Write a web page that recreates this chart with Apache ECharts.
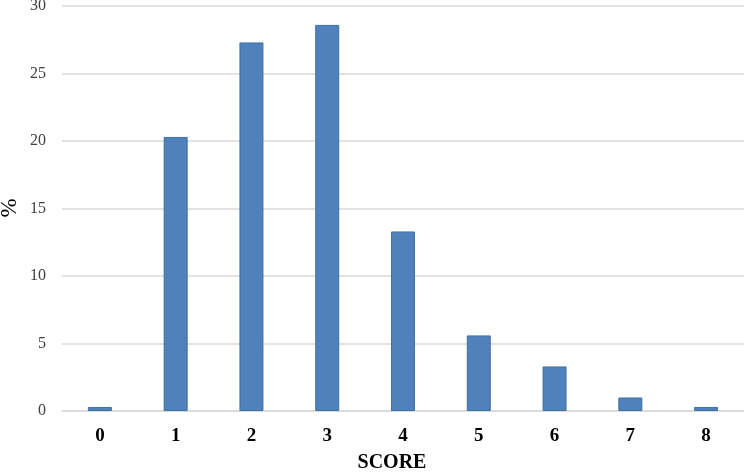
<!DOCTYPE html>
<html>
<head>
<meta charset="utf-8">
<script src="https://cdn.jsdelivr.net/npm/echarts@6/dist/echarts.min.js"></script>
<style>html,body{margin:0;padding:0;background:#fff}#c{width:744px;height:472px}</style>
</head>
<body>
<div id="c"></div>
<script>
const categories = ['0','1','2','3','4','5','6','7','8'];
const values = [0.3, 20.3, 27.3, 28.6, 13.3, 5.6, 3.3, 1.0, 0.3];
const yTicks = [0, 5, 10, 15, 20, 25, 30];
const yTitle = '%';
const xTitle = 'SCORE';

const chart = echarts.init(document.getElementById('c'), null, {renderer: 'canvas'});
chart.setOption({
  animation: false,
  backgroundColor: '#ffffff',
  grid: {left: 62, right: 0, top: 6, bottom: 61, containLabel: false, outerBoundsMode: 'none'},
  graphic: [{
    type: 'text',
    x: 10,
    y: 208,
    rotation: Math.PI / 2,
    style: {text: yTitle, fontFamily: 'Liberation Serif', fontSize: 23, fill: '#000', align: 'center', verticalAlign: 'middle'}
  }],
  xAxis: {
    type: 'category',
    data: categories,
    name: xTitle,
    nameLocation: 'middle',
    nameGap: 42,
    nameTextStyle: {fontFamily: 'Liberation Serif', fontWeight: 'bold', fontSize: 20, color: '#000', padding: [0, 22, 0, 0]},
    axisLine: {show: true, lineStyle: {color: '#d9d9d9', width: 1.5}},
    axisTick: {show: false},
    axisLabel: {fontFamily: 'Liberation Serif', fontWeight: 'bold', fontSize: 19, color: '#000', margin: 16}
  },
  yAxis: {
    type: 'value',
    min: yTicks[0],
    max: yTicks[yTicks.length - 1],
    interval: 5,
    axisLine: {show: false},
    axisTick: {show: false},
    splitLine: {lineStyle: {color: '#d9d9d9', width: 1.5}},
    axisLabel: {fontFamily: 'Liberation Serif', fontSize: 16, color: '#404040', margin: 16}
  },
  series: [{
    type: 'bar',
    data: values,
    barWidth: 24,
    itemStyle: {color: '#4f81bd', borderColor: '#41719c', borderWidth: 1}
  }]
});
</script>
</body>
</html>
